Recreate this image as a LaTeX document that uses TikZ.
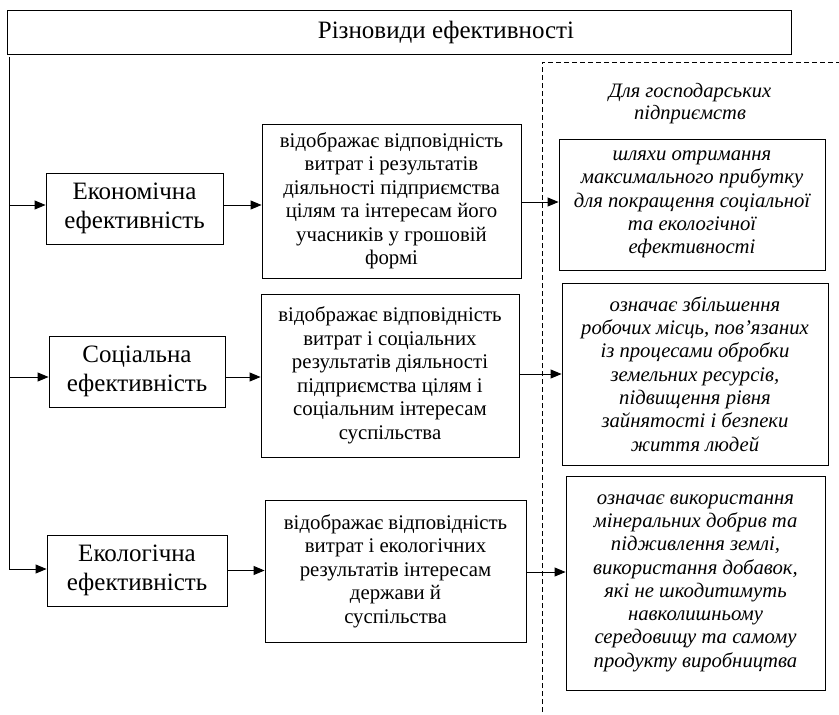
\documentclass[tikz,border=0pt]{standalone}
\usepackage{fontspec}
\setmainfont{Liberation Serif}
\usetikzlibrary{arrows.meta}

\begin{document}
\begin{tikzpicture}[x=1pt, y=-1pt, line width=0.9pt,
	box/.style={draw, align=center, inner sep=2pt},
	kind/.style={box, font=\fontsize{25}{28.5}\selectfont},
	note/.style={box, font=\fontsize{20.8}{23.5}\selectfont},
	firm/.style={box, font=\fontsize{20.7}{23.3}\selectfont\itshape},
	arr/.style={-{Triangle[length=11pt, width=9pt]}}]
	\useasboundingbox (0,0) rectangle (839,715);
	\node[box, minimum width=784, minimum height=44,
		label={[xshift=47pt, font=\fontsize{25}{29}\selectfont]center:Різновиди ефективності}] (title) at (399,32) {};
	\draw[dashed, dash pattern=on 5pt off 3pt] (542,712) |- (839,62);
	\node[align=center, font=\fontsize{20.5}{22}\selectfont\itshape] (head) at (690,104) {Для господарських\\підприємств};
	\coordinate (top) at (9,57);
	\coordinate (bot) at (9,569);
	\draw (top) -- (bot);
	\node[kind, minimum width=177, minimum height=71] (eco) at (134.5,208.5) {Економічна\\ефективність};
	\node[kind, minimum width=176, minimum height=71] (soc) at (137,371.5) {Соціальна\\ефективність};
	\node[kind, minimum width=180, minimum height=71] (ecl) at (137,570.5) {Екологічна\\ефективність};
	\node[note, minimum width=259, minimum height=154] (m1) at (391.5,201) {відображає відповідність\\витрат і результатів\\діяльності підприємства\\цілям та інтересам його\\учасників у грошовій\\формі};
	\node[note, minimum width=258, minimum height=163] (m2) at (390,375.5) {відображає відповідність\\витрат і соціальних\\результатів діяльності\\підприємства цілям і\\соціальним інтересам\\суспільства};
	\node[note, minimum width=261, minimum height=142] (m3) at (395.5,571) {відображає відповідність\\витрат і екологічних\\результатів інтересам\\держави й\\суспільства};
	\node[firm, minimum width=266, minimum height=131] (r1) at (692,204.5) {шляхи отримання\\максимального прибутку\\для покращення соціальної\\та екологічної\\ефективності};
	\node[firm, minimum width=266, minimum height=182] (r2) at (695,374) {означає збільшення\\робочих місць, пов’язаних\\із процесами обробки\\земельних ресурсів,\\підвищення рівня\\зайнятості і безпеки\\життя людей};
	\node[firm, minimum width=259, minimum height=214] (r3) at (695.5,583) {означає використання\\мінеральних добрив та\\підживлення землі,\\використання добавок,\\які не шкодитимуть\\навколишньому\\середовищу та самому\\продукту виробництва};
	\draw[arr] (top |- 0,205) -- (eco.west |- 0,205);
	\draw[arr] (top |- 0,377) -- (soc.west |- 0,377);
	\draw[arr] (bot) -- (bot -| ecl.west);
	\draw[arr] (eco.east |- 0,205) -- (m1.west |- 0,205);
	\draw[arr] (soc.east |- 0,377) -- (m2.west |- 0,377);
	\draw[arr] (ecl.east) -- (ecl.east -| m3.west);
	\draw[arr] (m1.east |- 0,202) -- (r1.west |- 0,202);
	\draw[arr] (m2.east |- 0,374) -- (r2.west |- 0,374);
	\draw[arr] (m3.east |- 0,572) -- (r3.west |- 0,572);
\end{tikzpicture}
\end{document}
